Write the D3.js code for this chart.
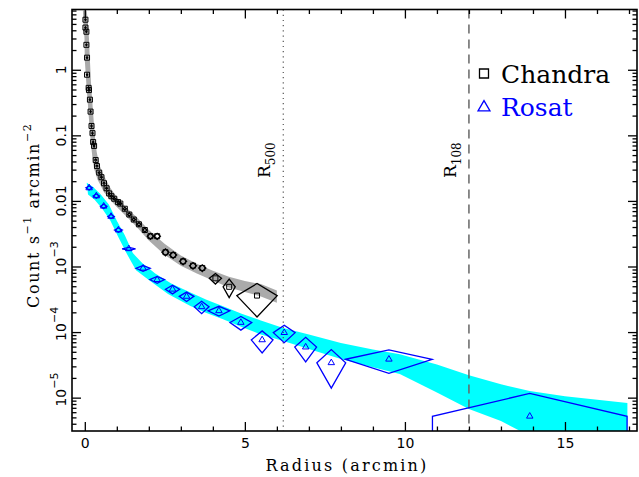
<!DOCTYPE html>
<html><head><meta charset="utf-8">
<script src="https://cdn.jsdelivr.net/npm/d3@7"></script>
<style>
html,body{margin:0;padding:0;background:#fff;}
svg{display:block;}
</style></head>
<body>
<svg id="chart" width="639" height="477"></svg>
<script>
// ---------- data ----------
const xTickValues = [0, 5, 10, 15];
const xTickLabels = ["0", "5", "10", "15"];
const yTickValues = [1, 0.1, 0.01, 1e-3, 1e-4, 1e-5];
const yTickBase = ["1", "0.1", "0.01", "10", "10", "10"];
const yTickExp = ["", "", "", "\u22123", "\u22124", "\u22125"];

const chandraR  = [0.02,0.02,0.05,0.05,0.07,0.07,0.12,0.13,0.16,0.18,0.21,0.24,0.26,0.29,0.34,0.38,0.45,0.52,0.60,0.68,0.76,0.83,0.92,1.04,1.11,1.25,1.39,1.53,1.69,1.875,2.05,2.26,2.52,2.76,3.07,3.38,3.67,4.08,4.51,5.38];
const chandraV  = [5.8,4.4,3.8,2.4,1.53,0.84,0.53,0.49,0.35,0.23,0.139,0.108,0.079,0.069,0.042,0.034,0.027,0.023,0.0186,0.0156,0.013,0.0118,0.0108,0.0096,0.0091,0.0076,0.0062,0.0052,0.0044,0.0036,0.0029,0.0029,0.00165,0.0015,0.0012,0.00103,0.00095,0.00066,0.00049,0.00036];
const chandraDR = [0.02,0.02,0.02,0.02,0.02,0.02,0.02,0.02,0.02,0.02,0.02,0.02,0.02,0.02,0.03,0.03,0.03,0.03,0.03,0.03,0.03,0.04,0.04,0.04,0.04,0.05,0.05,0.05,0.06,0.06,0.1,0.1,0.11,0.11,0.11,0.11,0.11,0.19,0.19,0.63];
const chandraDV = [0.15,0.12,0.1,0.07,0.05,0.03,0.02,0.02,0.012,0.008,0.005,0.004,0.003,0.003,0.0015,0.0012,0.001,0.0009,0.0007,0.0006,0.0005,0.0005,0.0005,0.0005,0.0005,0.0004,0.0004,0.0003,0.0003,0.0003,0.0003,0.0003,0.0002,0.00017,0.00014,0.00012,0.00011,0.00012,0.000155,0.00019];

const rosatR  = [0.135,0.36,0.59,0.82,1.05,1.375,1.82,2.26,2.74,3.18,3.65,4.19,4.875,5.54,6.23,6.9,7.7,9.5,13.9];
const rosatV  = [0.0158,0.0119,0.0083,0.0058,0.0036,0.00186,0.00094,0.00063,0.00045,0.00035,0.000243,0.000211,0.00014,0.000076,0.000098,0.000059,0.000034,0.0000385,0.0000052];
const rosatDR = [0.1,0.1,0.1,0.1,0.12,0.21,0.22,0.23,0.22,0.23,0.23,0.34,0.34,0.34,0.34,0.34,0.45,1.35,3.04];
const rosatDV = [0.00115,0.00087,0.0006,0.00042,0.00026,0.0001,0.000094,0.000077,0.000068,0.000057,0.000052,0.000036,0.000033,0.000028,0.000029,0.000024,0.00002,0.000015,0.0000064];

const chandraBandTop = [[0.06,8],[0.1,5],[0.13,3],[0.16,1.4],[0.2,0.55],[0.24,0.3],[0.28,0.16],[0.32,0.09],[0.37,0.056],[0.45,0.036],[0.6,0.024],[0.8,0.0158],[1.0,0.0115],[1.3,0.0079],[1.6,0.0058],[2.0,0.0036],[2.5,0.0022],[3.0,0.00147],[3.5,0.0011],[4.0,0.00086],[4.5,0.0007],[5.0,0.0006],[5.5,0.00054],[6.0,0.00043]];
const chandraBandBottom = [[-0.06,8],[-0.04,5],[-0.01,3],[0.0,1.4],[0.06,0.5],[0.1,0.28],[0.14,0.15],[0.19,0.075],[0.24,0.045],[0.3,0.03],[0.4,0.021],[0.5,0.017],[0.6,0.0135],[0.8,0.0103],[1.0,0.0081],[1.3,0.0058],[1.6,0.0041],[2.0,0.0025],[2.5,0.0015],[3.0,0.00103],[3.5,0.00078],[4.0,0.00061],[4.5,0.00048],[5.0,0.00041],[5.5,0.00035],[6.0,0.00028]];

const rosatBandTop = [[0.06,0.019],[0.25,0.0165],[0.5,0.0125],[0.75,0.0088],[1.0,0.005],[1.25,0.003],[1.5,0.0016],[1.8,0.00112],[2.2,0.00078],[2.7,0.00055],[3.3,0.0004],[3.8,0.00031],[4.3,0.00025],[4.9,0.00019],[5.5,0.00015],[6.2,0.000115],[7.0,0.000092],[8.0,0.000068],[9.0,0.000054],[9.84,0.000046],[11.0,0.000032],[12.0,0.000022],[13.0,0.000016],[13.9,0.0000126],[15.0,0.0000105],[16.95,0.0000083]];
const rosatBandBottom = [[0.1,0.0125],[0.3,0.0105],[0.55,0.0075],[0.8,0.005],[1.05,0.0028],[1.3,0.0016],[1.6,0.00088],[2.0,0.00062],[2.6,0.00038],[3.3,0.00025],[3.8,0.000195],[4.3,0.000158],[4.9,0.00012],[5.5,0.000092],[6.2,0.000073],[7.0,0.000055],[8.0,0.000039],[9.0,0.000029],[9.84,0.000023],[11.0,0.000012],[12.0,0.0000067],[13.0,0.0000044],[13.6,0.0000031],[15.0,0.0000015],[16.95,0.0000008]];

const r500 = 6.2;
const r108 = 12.0;
const legendNames = ["Chandra", "Rosat"];
const legendColors = ["#000000", "#0000ff"];

// ---------- layout ----------
const L = 72, R = 637, T = 9.5, B = 431;
const x = d3.scaleLinear().domain([-0.4, 17.25]).range([L, R]);
const y = d3.scaleLog().domain([3.1e-6, 8.3]).range([B, T]);

const svg = d3.select("#chart");
svg.append("defs").append("clipPath").attr("id", "clip")
  .append("rect").attr("x", L).attr("y", T).attr("width", R - L).attr("height", B - T);

const plot = svg.append("g").attr("clip-path", "url(#clip)");

function bandPath(top, bottom) {
  const pts = top.concat(bottom.slice().reverse());
  return "M" + pts.map(p => x(p[0]) + "," + y(p[1])).join("L") + "Z";
}
plot.append("path").attr("d", bandPath(chandraBandTop, chandraBandBottom)).attr("fill", "#aaaaaa");
plot.append("path").attr("d", bandPath(rosatBandTop, rosatBandBottom)).attr("fill", "#00ffff");

// reference lines
plot.append("line").attr("x1", x(r500)).attr("x2", x(r500)).attr("y1", T).attr("y2", B)
  .attr("stroke", "#555").attr("stroke-width", 1.2).attr("stroke-dasharray", "1.2,4");
plot.append("line").attr("x1", x(r108)).attr("x2", x(r108)).attr("y1", T).attr("y2", B)
  .attr("stroke", "#666").attr("stroke-width", 1.5).attr("stroke-dasharray", "9,6");

function diamond(r, v, dr, dv) {
  const lo = v - dv;
  if (lo > 0) {
    return `M${x(r - dr)},${y(v)}L${x(r)},${y(v + dv)}L${x(r + dr)},${y(v)}L${x(r)},${y(lo)}Z`;
  }
  return `M${x(r - dr)},${B + 5}L${x(r - dr)},${y(v)}L${x(r)},${y(v + dv)}L${x(r + dr)},${y(v)}L${x(r + dr)},${B + 5}`;
}

// Chandra
const cIdx = d3.range(chandraR.length);
plot.append("g").selectAll("path").data(cIdx).join("path")
  .attr("d", i => diamond(chandraR[i], chandraV[i], chandraDR[i], chandraDV[i]))
  .attr("fill", "none").attr("stroke", "#000").attr("stroke-width", 1.3);
plot.append("g").selectAll("path").data(cIdx).join("path")
  .attr("transform", i => `translate(${x(chandraR[i])},${y(chandraV[i])})`)
  .attr("d", d3.symbol(d3.symbolSquare, 25))
  .attr("fill", "none").attr("stroke", "#000").attr("stroke-width", 1);

// Rosat
const rIdx = d3.range(rosatR.length);
plot.append("g").selectAll("path").data(rIdx).join("path")
  .attr("d", i => diamond(rosatR[i], rosatV[i], rosatDR[i], rosatDV[i]))
  .attr("fill", "none").attr("stroke", "#0000ff").attr("stroke-width", 1.3);
plot.append("g").selectAll("path").data(rIdx).join("path")
  .attr("transform", i => `translate(${x(rosatR[i])},${y(rosatV[i])})`)
  .attr("d", d3.symbol(d3.symbolTriangle, 18))
  .attr("fill", "none").attr("stroke", "#0000ff").attr("stroke-width", 1);

// ---------- axes ----------
const xMinor = d3.range(0, 18, 1).filter(v => v % 5 !== 0);
const yMinor = [];
for (let e = -6; e <= 0; e++) for (let k = 2; k <= 9; k++) { const v = k * Math.pow(10, e); if (v >= 3.1e-6 && v <= 8.3) yMinor.push(v); }

function styleAxis(g) {
  g.select(".domain").remove();
  g.selectAll(".tick line").attr("stroke", "#000").attr("stroke-width", 1.3);
}
svg.append("g").attr("transform", `translate(0,${B})`)
  .call(d3.axisBottom(x).tickValues(xTickValues).tickSize(-9).tickPadding(7).tickFormat((d, i) => xTickLabels[i]))
  .call(styleAxis)
  .call(g => g.selectAll("text").attr("font-family", "DejaVu Sans").attr("font-size", 14).attr("fill", "#000"));
svg.append("g").attr("transform", `translate(0,${B})`)
  .call(d3.axisBottom(x).tickValues(xMinor).tickSize(-4.5).tickFormat(""))
  .call(styleAxis);
svg.append("g").attr("transform", `translate(0,${T})`)
  .call(d3.axisTop(x).tickValues(xTickValues).tickSize(-9).tickFormat(""))
  .call(styleAxis);
svg.append("g").attr("transform", `translate(0,${T})`)
  .call(d3.axisTop(x).tickValues(xMinor).tickSize(-4.5).tickFormat(""))
  .call(styleAxis);
svg.append("g").attr("transform", `translate(${L},0)`)
  .call(d3.axisLeft(y).tickValues(yTickValues).tickSize(-9).tickFormat(""))
  .call(styleAxis);
svg.append("g").attr("transform", `translate(${L},0)`)
  .call(d3.axisLeft(y).tickValues(yMinor).tickSize(-4.5).tickFormat(""))
  .call(styleAxis);
svg.append("g").attr("transform", `translate(${R},0)`)
  .call(d3.axisRight(y).tickValues(yTickValues).tickSize(-9).tickFormat(""))
  .call(styleAxis);
svg.append("g").attr("transform", `translate(${R},0)`)
  .call(d3.axisRight(y).tickValues(yMinor).tickSize(-4.5).tickFormat(""))
  .call(styleAxis);

// y tick labels (rotated)
const yl = svg.append("g").attr("font-family", "DejaVu Sans").attr("font-size", 14).attr("fill", "#000");
yTickValues.forEach((v, i) => {
  const g = yl.append("g").attr("transform", `translate(66,${y(v)}) rotate(-90)`);
  g.append("text").attr("text-anchor", "middle").text(yTickBase[i]);
  if (yTickExp[i]) {
    g.append("text").attr("x", 9).attr("y", -8).attr("font-size", 11).text(yTickExp[i]);
  }
});

// frame
svg.append("rect").attr("x", L).attr("y", T).attr("width", R - L).attr("height", B - T)
  .attr("fill", "none").attr("stroke", "#000").attr("stroke-width", 1.6);

// axis titles
svg.append("text").attr("x", 347).attr("y", 471).attr("text-anchor", "middle")
  .attr("font-family", "DejaVu Serif").attr("font-size", 16).attr("letter-spacing", 2.2).attr("fill", "#000")
  .text("Radius (arcmin)");
const yt = svg.append("text").attr("transform", `translate(39,${(T + B) / 2 - 5}) rotate(-90)`)
  .attr("text-anchor", "middle").attr("font-family", "DejaVu Serif").attr("font-size", 16).attr("letter-spacing", 1.6).attr("fill", "#000");
yt.append("tspan").text("Count s");
yt.append("tspan").attr("dy", -8).attr("font-size", 11).text("\u22121");
yt.append("tspan").attr("dy", 8).text(" arcmin");
yt.append("tspan").attr("dy", -8).attr("font-size", 11).text("\u22122");

// R labels
function rLabel(px, sub) {
  const t = svg.append("text").attr("transform", `translate(${px},178) rotate(-90)`)
    .attr("font-family", "DejaVu Serif").attr("font-size", 17).attr("fill", "#000");
  t.append("tspan").text("R");
  t.append("tspan").attr("dy", 5).attr("font-size", 12).text(sub);
}
rLabel(x(r500) - 13, "500");
rLabel(x(r108) - 13, "108");

// legend
const lg = svg.append("g");
legendNames.forEach((n, i) => {
  const yy = 73.5 + i * 33;
  lg.append("path").attr("transform", `translate(484,${yy + (i ? 1 : 0)})`)
    .attr("d", d3.symbol(i ? d3.symbolTriangle : d3.symbolSquare, i ? 62 : 81))
    .attr("fill", "none").attr("stroke", legendColors[i]).attr("stroke-width", 1.3);
  lg.append("text").attr("x", 501).attr("y", yy + 9).attr("font-family", "DejaVu Serif").attr("font-size", 25)
    .attr("fill", legendColors[i]).text(n);
});
</script>
</body></html>
